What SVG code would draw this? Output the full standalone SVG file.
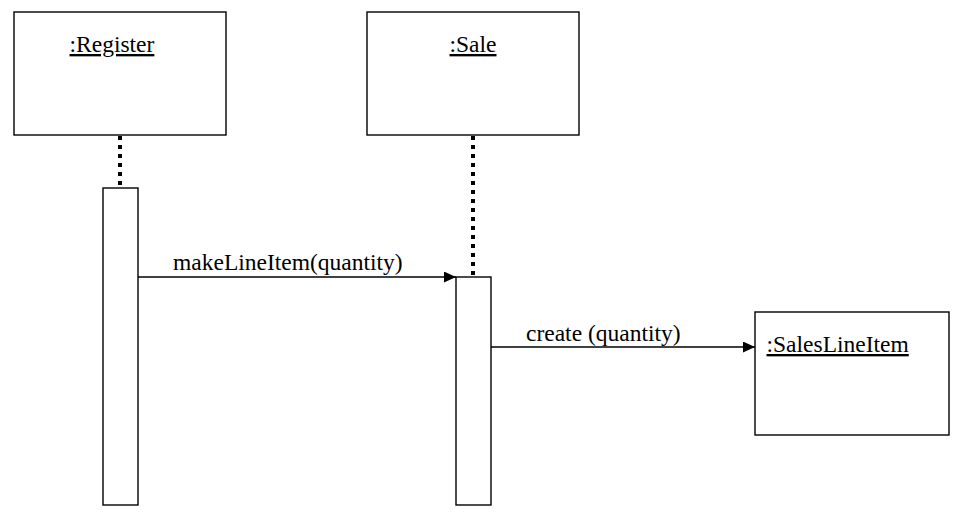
<svg xmlns="http://www.w3.org/2000/svg" width="967" height="521" viewBox="0 0 967 521">
<style>
  .box{fill:#fff;stroke:#000;stroke-width:1.4}
  .bar{fill:#fff;stroke:#000;stroke-width:1.4}
  .life{stroke:#000;stroke-width:4;stroke-dasharray:4 5;fill:none}
  .msg{stroke:#000;stroke-width:1.4;fill:none}
  text{font-family:"Liberation Serif","Times New Roman",serif;font-size:23.5px;fill:#000}
  .u{text-decoration:underline}
</style>
<defs>
  <marker id="arr" markerWidth="12" markerHeight="11" refX="12" refY="5.5" orient="auto" markerUnits="userSpaceOnUse">
    <path d="M0,0 L12,5.5 L0,11 Z" fill="#000"/>
  </marker>
</defs>
<rect width="967" height="521" fill="#fff"/>
<g id="register">
  <rect class="box" x="14" y="12" width="212" height="123"/>
  <text class="u" x="69.5" y="52">:Register</text>
  <line class="life" x1="120" y1="136" x2="120" y2="187"/>
  <rect class="bar" x="103" y="188" width="35" height="317"/>
</g>
<g id="sale">
  <rect class="box" x="367" y="12" width="212" height="123"/>
  <text class="u" x="449.5" y="52">:Sale</text>
  <line class="life" x1="473" y1="136" x2="473" y2="276"/>
  <rect class="bar" x="456" y="277" width="35" height="228"/>
</g>
<g id="saleslineitem">
  <rect class="box" x="755" y="312" width="194" height="123"/>
  <text class="u" x="766.5" y="352">:SalesLineItem</text>
</g>
<g id="connectors">
  <line class="msg" x1="138" y1="277" x2="456" y2="277" marker-end="url(#arr)"/>
  <text x="173" y="270">makeLineItem(quantity)</text>
  <line class="msg" x1="491" y1="347" x2="755" y2="347" marker-end="url(#arr)"/>
  <text x="526" y="341">create (quantity)</text>
</g>
</svg>
